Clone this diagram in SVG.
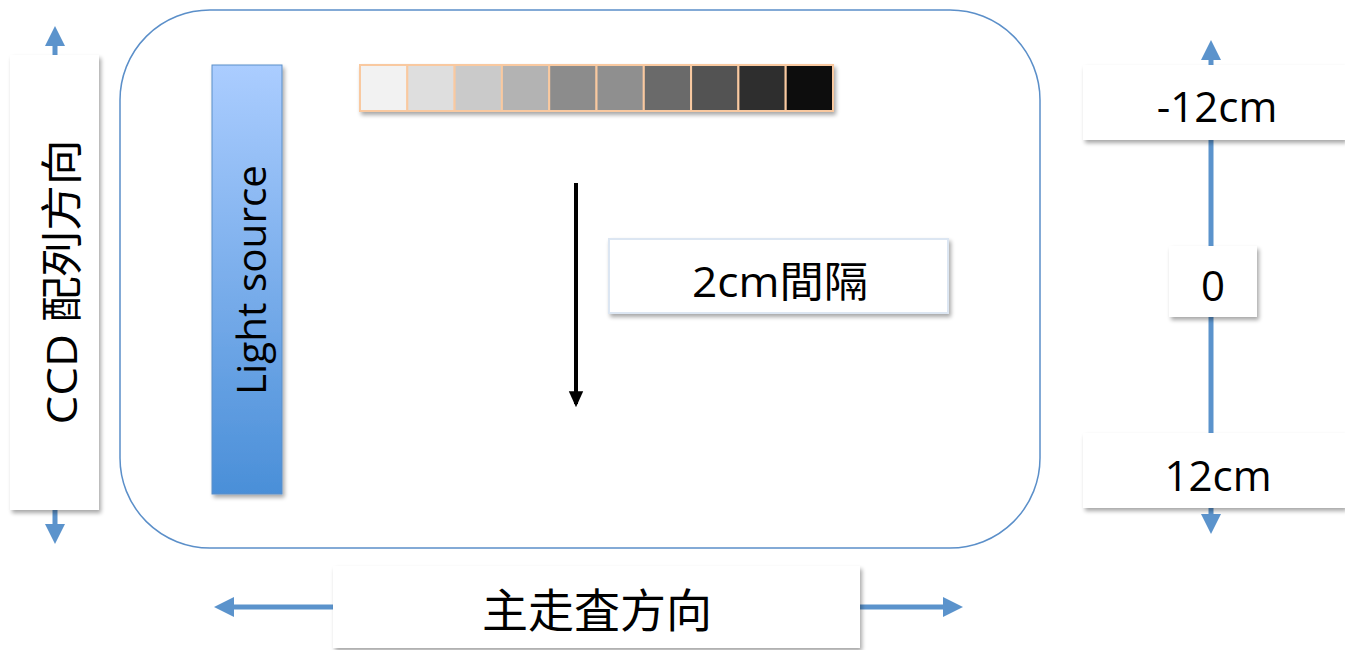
<svg xmlns="http://www.w3.org/2000/svg" width="1345" height="650" viewBox="0 0 1345 650">
<defs>
<linearGradient id="lg" x1="0" y1="0" x2="0" y2="1">
<stop offset="0" stop-color="#abcdff"/>
<stop offset="1" stop-color="#4a8fd8"/>
</linearGradient>
<filter id="sh" x="-10%" y="-10%" width="130%" height="130%">
<feGaussianBlur in="SourceAlpha" stdDeviation="2"/>
<feOffset dx="2" dy="3" result="b"/>
<feComponentTransfer><feFuncA type="linear" slope="0.35"/></feComponentTransfer>
<feMerge><feMergeNode/><feMergeNode in="SourceGraphic"/></feMerge>
</filter>
<marker id="bh" viewBox="0 0 10 10" refX="5" refY="5" markerWidth="4" markerHeight="4" orient="auto-start-reverse">
<path d="M0,0 L10,5 L0,10 z" fill="#5b93cc"/>
</marker>
<marker id="kh" viewBox="0 0 10 10" refX="8" refY="5" markerWidth="4" markerHeight="4" orient="auto">
<path d="M0,0.5 L10,5 L0,9.5 z" fill="#000"/>
</marker>
</defs>
<style>
.t{font-family:"Open Sans","Noto Sans CJK TC",sans-serif;fill:#000;text-anchor:middle}
.box{fill:#fff;filter:url(#sh)}
.ax{stroke:#5b93cc;stroke-width:5;fill:none}
.cell{stroke:#f9c9a0;stroke-width:2}
</style>
<rect width="1345" height="650" fill="#fff"/>
<g id="frame">
<rect x="120" y="10" width="920" height="538" rx="90" ry="90" fill="#fff" stroke="#5b8fc9" stroke-width="1.5"/>
</g>
<g id="connectors">
<line class="ax" x1="55" y1="36" x2="55" y2="534" marker-start="url(#bh)" marker-end="url(#bh)"/>
<line class="ax" x1="1211" y1="50" x2="1211" y2="524" marker-start="url(#bh)" marker-end="url(#bh)"/>
<line class="ax" x1="224" y1="607" x2="953" y2="607" marker-start="url(#bh)" marker-end="url(#bh)"/>
<line x1="576" y1="183" x2="576" y2="404" stroke="#000" stroke-width="4" marker-end="url(#kh)"/>
</g>
<g id="light-source">
<rect x="212" y="65" width="70" height="429" fill="url(#lg)" stroke="#5b8fc9" stroke-width="1" filter="url(#sh)"/>
<text class="t" font-size="40" transform="translate(266,280) rotate(-90)" textLength="230" lengthAdjust="spacingAndGlyphs">Light source</text>
</g>
<g id="gray-strip" filter="url(#sh)">
<rect class="cell" x="360" y="65" width="47.3" height="46" fill="#f2f2f2"/>
<rect class="cell" x="407.3" y="65" width="47.3" height="46" fill="#dedede"/>
<rect class="cell" x="454.6" y="65" width="47.3" height="46" fill="#cacaca"/>
<rect class="cell" x="501.9" y="65" width="47.3" height="46" fill="#b3b3b3"/>
<rect class="cell" x="549.2" y="65" width="47.3" height="46" fill="#8c8c8c"/>
<rect class="cell" x="596.5" y="65" width="47.3" height="46" fill="#8f8f8f"/>
<rect class="cell" x="643.8" y="65" width="47.3" height="46" fill="#6b6b6b"/>
<rect class="cell" x="691.1" y="65" width="47.3" height="46" fill="#525252"/>
<rect class="cell" x="738.4" y="65" width="47.3" height="46" fill="#2f2f2f"/>
<rect class="cell" x="785.7" y="65" width="47.3" height="46" fill="#0d0d0d"/>
</g>
<g id="interval">
<rect class="box" x="609" y="239" width="339" height="74" stroke="#dce6f2" stroke-width="2"/>
<text class="t" font-size="42" x="780" y="297" textLength="176" lengthAdjust="spacingAndGlyphs">2cm間隔</text>
</g>
<g id="ccd">
<rect class="box" x="10" y="55" width="89" height="455"/>
<text class="t" font-size="42" transform="translate(77,282) rotate(-90)" textLength="285" lengthAdjust="spacingAndGlyphs">CCD 配列方向</text>
</g>
<g id="minus12">
<rect class="box" x="1083" y="65" width="262" height="75"/>
<text class="t" font-size="42" x="1217" y="122">-12cm</text>
</g>
<g id="zero">
<rect class="box" x="1169" y="246" width="88" height="71"/>
<text class="t" font-size="42" x="1213" y="301">0</text>
</g>
<g id="plus12">
<rect class="box" x="1083" y="433" width="262" height="75"/>
<text class="t" font-size="42" x="1218" y="491">12cm</text>
</g>
<g id="main-scan">
<rect class="box" x="333" y="566" width="527" height="82"/>
<text class="t" font-size="46" x="597" y="627">主走査方向</text>
</g>
</svg>
